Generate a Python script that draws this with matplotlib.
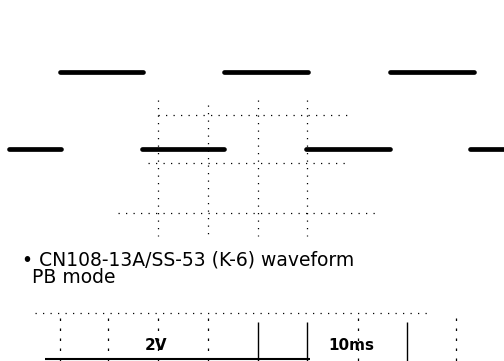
import matplotlib
matplotlib.use("Agg")
import matplotlib.pyplot as plt

# ---- data (pixel-space scope trace) ----
# square wave: each segment start, end and level
seg_start = [9, 60, 142, 224, 306, 390, 470]
seg_end   = [61, 143, 224, 308, 390, 474, 504]
seg_level = ["L", "H", "L", "H", "L", "H", "L"]
level_y = {"H": 72, "L": 149}

# graticule fragments of the upper screen
grid_v_x = [158, 208, 258, 307]
grid_v_y0 = [100, 105, 100, 100]
grid_v_y1 = [236, 236, 236, 236]
grid_h_y = [115, 163, 213]
grid_h_x0 = [158, 148, 118]
grid_h_x1 = [350, 350, 380]

# lower screen graticule
low_v_x = [60, 108, 158, 208, 258, 307, 358, 407, 456]
low_v_solid = [False, False, False, False, True, True, False, True, False]
low_h_y = 313

caption_lines = ["\u2022 CN108-13A/SS-53 (K-6) waveform", "PB mode"]
volt_label = "2V"
time_label = "10ms"

fig = plt.figure(figsize=(5.04, 3.61), dpi=100)
ax = fig.add_axes([0, 0, 1, 1])
ax.set_xlim(0, 504)
ax.set_ylim(361, 0)
ax.axis("off")

dot = (0, (1, 5))
for x, y0, y1 in zip(grid_v_x, grid_v_y0, grid_v_y1):
    ax.vlines(x, y0, y1, colors="black", linestyles=[dot], linewidth=0.9)
for y, x0, x1 in zip(grid_h_y, grid_h_x0, grid_h_x1):
    ax.hlines(y, x0, x1, colors="black", linestyles=[dot], linewidth=0.9)

for s, e, l in zip(seg_start, seg_end, seg_level):
    ax.hlines(level_y[l], s, e, colors="black", linewidth=3.4, capstyle="round")

ax.text(22, 265, caption_lines[0], fontsize=13.5, family="DejaVu Sans",
        ha="left", va="baseline")
ax.text(32, 283, caption_lines[1], fontsize=13.5, family="DejaVu Sans",
        ha="left", va="baseline")

ax.hlines(low_h_y, 35, 430, colors="black", linestyles=[dot], linewidth=0.9)
for x, solid in zip(low_v_x, low_v_solid):
    if solid:
        ax.vlines(x, 322, 361, colors="black", linewidth=1.0)
    else:
        ax.vlines(x, 318, 361, colors="black", linestyles=[(0, (2, 6))], linewidth=0.9)
ax.hlines(359, 45, 310, colors="black", linewidth=1.5)

ax.text(145, 350, volt_label, fontsize=11, fontweight="bold",
        family="DejaVu Sans", ha="left", va="baseline")
ax.text(328, 350, time_label, fontsize=11, fontweight="bold",
        family="DejaVu Sans", ha="left", va="baseline")

fig.savefig("out.png", dpi=100)
